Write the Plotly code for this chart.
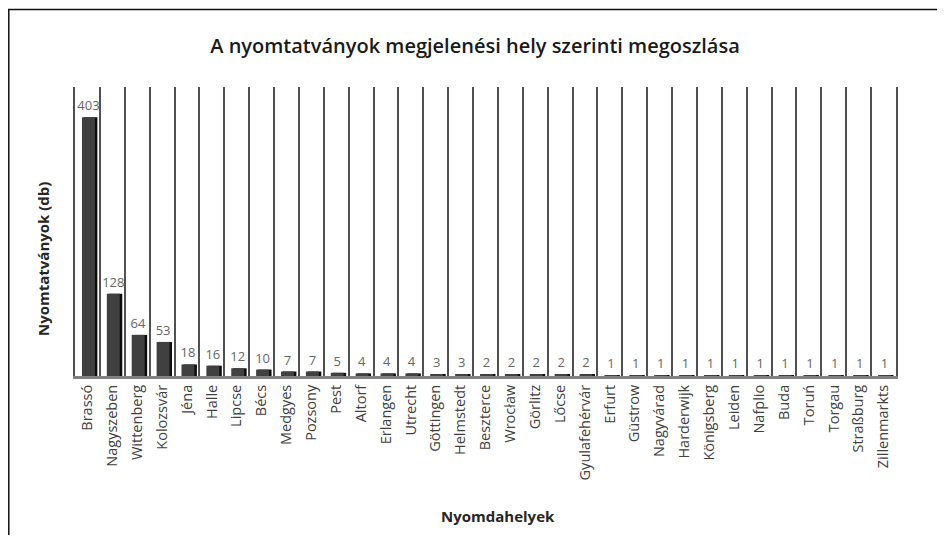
import plotly.graph_objects as go

categories = ["Brassó", "Nagyszeben", "Wittenberg", "Kolozsvár", "Jéna", "Halle", "Lipcse", "Bécs",
              "Medgyes", "Pozsony", "Pest", "Altorf", "Erlangen", "Utrecht", "Göttingen", "Helmstedt",
              "Beszterce", "Wrocław", "Görlitz", "Lőcse", "Gyulafehérvár", "Erfurt", "Güstrow",
              "Nagyvárad", "Harderwijk", "Königsberg", "Leiden", "Nafplio", "Buda", "Toruń",
              "Torgau", "Straßburg", "Zillenmarkts"]
values = [403, 128, 64, 53, 18, 16, 12, 10, 7, 7, 5, 4, 4, 4, 3, 3, 2, 2, 2, 2, 2,
          1, 1, 1, 1, 1, 1, 1, 1, 1, 1, 1, 1]

title_text = "A nyomtatványok megjelenési hely szerinti megoszlása"
x_title = "Nyomdahelyek"
y_title = "Nyomtatványok (db)"

FONT = "Open Sans"
# the page body has an 8px margin, so the figure is drawn from (8, 8)
OFF = 8
W, H = 945 - 2 * OFF, 543 - 2 * OFF
L, R, T = 75 - OFF, 40.5, 87 - OFF
B = H - (376 - OFF)
pw = W - L - R
ph = H - T - B

fig = go.Figure()
# dark "3D" side of the bars
fig.add_trace(go.Bar(
    x=categories, y=values, offset=-0.14, width=0.54,
    marker=dict(color="#0d0d0d", line=dict(width=0)),
    hoverinfo="skip", showlegend=False,
))
# front face of the bars
fig.add_trace(go.Bar(
    x=categories, y=values, offset=-0.22, width=0.52,
    marker=dict(color="#404040", line=dict(width=0)),
    text=[str(v) for v in values], textposition="outside",
    textfont=dict(family=FONT, size=13, color="#666666"),
    constraintext="none", cliponaxis=False, showlegend=False,
))

def px_x(px):
    return (px - OFF - L) / pw

def px_y(py):
    return (H - B - (py - OFF)) / ph

fig.update_layout(
    width=W, height=H,
    margin=dict(l=L, r=R, t=T, b=B, autoexpand=False),
    paper_bgcolor="white", plot_bgcolor="white",
    barmode="overlay",
    font=dict(family=FONT, color="#404040"),
    title=dict(text=title_text, x=(475 - OFF) / W, xanchor="center",
               y=1 - (46 - OFF) / H, yanchor="middle",
               font=dict(family=FONT, size=20, weight=600, color="#1a1a1a")),
    xaxis=dict(
        type="category", range=[-0.5, len(categories) - 0.5],
        tickson="boundaries", ticks="", showgrid=True, gridcolor="#505050", gridwidth=2,
        showline=True, linecolor="#808080", linewidth=3,
        tickangle=-90, tickfont=dict(family=FONT, size=14.5, color="#404040"),
        title=dict(text=""), fixedrange=True,
    ),
    yaxis=dict(
        range=[0, 450], showgrid=False, zeroline=False, showticklabels=False, ticks="",
        showline=True, mirror=True, linecolor="#505050", linewidth=2,
        title=dict(text=""), fixedrange=True,
    ),
    annotations=[
        dict(text=f"<b>{y_title}</b>", xref="paper", yref="paper", x=px_x(43), y=px_y(259),
             textangle=-90, showarrow=False, xanchor="center", yanchor="middle",
             font=dict(family=FONT, size=15, color="#262626")),
        dict(text=f"<b>{x_title}</b>", xref="paper", yref="paper", x=px_x(498), y=px_y(516),
             showarrow=False, xanchor="center", yanchor="middle",
             font=dict(family=FONT, size=15, color="#262626")),
    ],
    shapes=[
        dict(type="rect", xref="paper", yref="paper",
             x0=px_x(8.75), x1=px_x(945 + 10), y0=px_y(543 + 10), y1=px_y(9.5),
             line=dict(color="#111111", width=1.5), layer="below"),
    ],
)

fig.write_html("out.html")
